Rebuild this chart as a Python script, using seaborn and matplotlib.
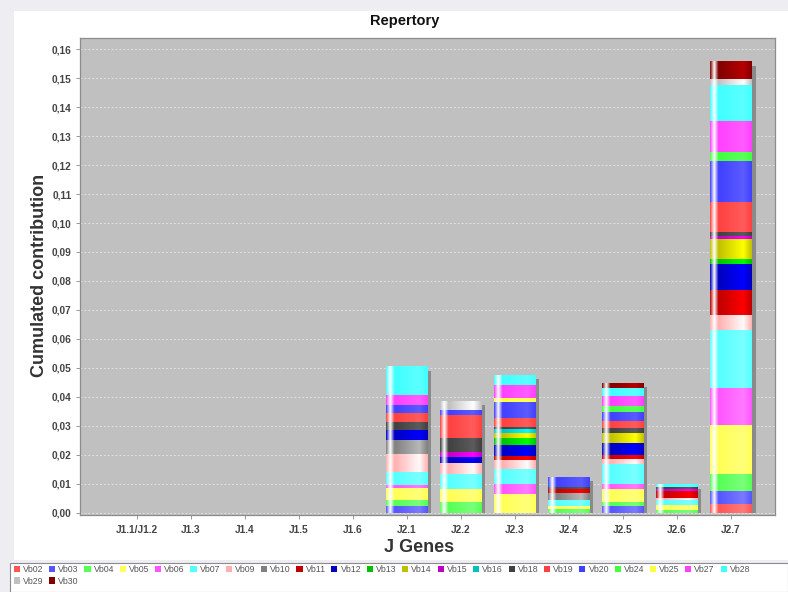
import numpy as np
import pandas as pd
import seaborn as sns
import matplotlib.pyplot as plt
from matplotlib.colors import to_rgb
from matplotlib.patches import Patch, Rectangle
from matplotlib.transforms import offset_copy

# J genes on the x axis
genes = ["J1.1/J1.2", "J1.3", "J1.4", "J1.5", "J1.6",
         "J2.1", "J2.2", "J2.3", "J2.4", "J2.5", "J2.6", "J2.7"]

# V beta segments, stacked bottom -> top
vb = ["Vb02", "Vb03", "Vb04", "Vb05", "Vb06", "Vb07", "Vb09", "Vb10", "Vb11",
      "Vb12", "Vb13", "Vb14", "Vb15", "Vb16", "Vb18", "Vb19", "Vb20", "Vb24",
      "Vb25", "Vb27", "Vb28", "Vb29", "Vb30"]

# jfreechart default paint sequence
vb_colors = ["#ff5555", "#5555ff", "#55ff55", "#ffff55", "#ff55ff", "#55ffff",
             "#ffafaf", "#808080", "#c00000", "#0000c0", "#00c000", "#c0c000",
             "#c000c0", "#00c0c0", "#404040", "#ff4040", "#4040ff", "#40ff40",
             "#ffff40", "#ff40ff", "#40ffff", "#c0c0c0", "#800000"]

# contributions per J gene, same order as vb
j1_empty = [0.0] * len(vb)
j21 = [0, .0024, .0020, .0041, .0010, .0048, .0062, .0048, 0, .0034, 0, 0,
       0, 0, .0028, .0031, .0028, 0, 0, .0034, .0097, 0, 0]
j22 = [0, 0, .0038, .0045, 0, .0052, .0038, 0, 0, .0020, 0, 0,
       .0017, 0, .0048, .0079, .0017, 0, 0, 0, 0, .0031, 0]
j23 = [0, 0, 0, .0064, .0036, .0050, .0031, 0, .0015, .0040, .0022, .0017,
       0, .0015, .0008, .0031, .0052, 0, .0017, .0045, .0034, 0, 0]
j24 = [0, 0, .0014, .0010, 0, .0020, 0, .0024, .0014, 0, 0, 0,
       0, 0, .0008, 0, .0034, 0, 0, 0, 0, 0, 0]
j25 = [0, .0023, .0015, .0045, .0017, .0069, .0017, 0, .0015, .0040, 0, .0034,
       0, 0, .0017, .0026, .0031, .0020, 0, .0036, .0025, 0, .0017]
j26 = [0, 0, .0010, .0017, 0, .0017, .0007, 0, .0024, 0, 0, 0,
       .0007, 0, .0007, 0, 0, 0, 0, 0, .0007, 0, 0]
j27 = [.0031, .0046, .0057, .0169, .0127, .0200, .0052, 0, .0086, .0090, .0017, .0071,
       .0009, 0, .0015, .0103, .0140, .0031, 0, .0107, .0126, .0020, .0059]

per_gene = [j1_empty] * 5 + [j21, j22, j23, j24, j25, j26, j27]

rows = []
for g, vals in zip(genes, per_gene):
    for v, val in zip(vb, vals):
        rows.append({"gene": g, "vb": v, "value": val})
df = pd.DataFrame(rows)
totals = df.groupby("gene", sort=False)["value"].sum().reindex(genes)


def brighter(rgb):
    # java.awt.Color.brighter()
    return np.array([min(c / 0.7, 1.0) if c > 0 else 0.0 for c in rgb])


def bar_gradient(rgb, n=120):
    # jfreechart GradientBarPainter, vertical bars: c0->white->c0->c1->c0
    c0 = np.array(rgb)
    c1 = brighter(rgb)
    white = np.ones(3)
    f = np.linspace(0, 1, n)
    out = np.empty((1, n, 3))
    for i, t in enumerate(f):
        if t < 0.1:
            a, b, s = c0, white, t / 0.1
        elif t < 0.2:
            a, b, s = white, c0, (t - 0.1) / 0.1
        elif t < 0.8:
            a, b, s = c0, c1, (t - 0.2) / 0.6
        else:
            a, b, s = c1, c0, (t - 0.8) / 0.2
        out[0, i] = a + (b - a) * s
    return out


sns.set_theme(style="white")
plt.rcParams["font.family"] = ["Liberation Sans", "DejaVu Sans"]

fig = plt.figure(figsize=(7.88, 5.92), dpi=100, facecolor="#eeeef2")
fig.patches.append(Rectangle((14 / 788, 32 / 592), 774 / 788, 549 / 592,
                             transform=fig.transFigure, facecolor="white",
                             edgecolor="none", zorder=-10))
ax = fig.add_axes([80 / 788, 1 - 515 / 592, 695 / 788, 477 / 592])
ax.set_facecolor("#c0c0c0")

bar_w = 0.77

# shadows
n0 = len(ax.patches)
sns.histplot(x=genes, weights=totals.values, discrete=True, shrink=bar_w,
             color="#8a8a8a", alpha=1, linewidth=0, ax=ax)
shadow_tr = offset_copy(ax.transData, fig=fig, x=4, y=-4, units="dots")
clip = Rectangle((-2, 0), 20, 1, transform=ax.transData)
for p in ax.patches[n0:]:
    p.set_transform(shadow_tr)
    p.set_clip_path(clip)

# stacked bars
n1 = len(ax.patches)
sns.histplot(data=df, x="gene", weights="value", hue="vb",
             hue_order=vb[::-1], palette=dict(zip(vb, vb_colors)),
             multiple="stack", discrete=True, shrink=bar_w, alpha=1,
             linewidth=0, legend=False, ax=ax)

# paint each segment with the gradient of its own colour
for p in ax.patches[n1:]:
    h = p.get_height()
    if h <= 0:
        continue
    x0, y0, w = p.get_x(), p.get_y(), p.get_width()
    img = bar_gradient(to_rgb(p.get_facecolor()))
    ax.imshow(img, extent=[x0, x0 + w, y0, y0 + h], aspect="auto",
              interpolation="bilinear", zorder=2.5)

ax.set_xlim(-1.046, 11.82)
ax.set_ylim(-0.0007, 0.1638)

yt = np.arange(0, 0.1601, 0.01)
ax.set_yticks(yt)
ax.set_yticklabels([f"{t:.2f}".replace(".", ",") for t in yt])
ax.set_xticks(range(len(genes)))
ax.set_xticklabels(genes)
ax.tick_params(axis="both", length=3, width=0.6, color="#888888",
               labelsize=7.3, labelcolor="#444444", pad=3)
for lab in ax.get_xticklabels() + ax.get_yticklabels():
    lab.set_fontweight("bold")
ax.tick_params(axis="x", pad=4)
ax.tick_params(axis="both", bottom=True, left=True)

ax.set_axisbelow(True)
ax.yaxis.grid(True, color="#e0e0e0", linestyle=(0, (2, 2)), linewidth=0.7)
ax.xaxis.grid(False)
for s in ax.spines.values():
    s.set_color("#8c8c8c")
    s.set_linewidth(0.9)

ax.set_xlabel("")
ax.set_ylabel("")
fig.text(405 / 788, 1 - 21 / 592, "Repertory", ha="center", va="center",
         fontsize=10.5, fontweight="bold", color="#111111")
fig.text(40 / 788, 1 - 275 / 592, "Cumulated contribution", rotation=90,
         ha="center", va="center", fontsize=13, fontweight="bold", color="#333333")
fig.text(419 / 788, 1 - 548 / 592, "J Genes", ha="center", va="center",
         fontsize=13, fontweight="bold", color="#333333")

# legend box at the bottom
fig.patches.append(Rectangle((10 / 788, 0), 778 / 788, 29 / 592,
                             transform=fig.transFigure, facecolor="white",
                             edgecolor="#8c8c8c", linewidth=0.8))
handles = [Patch(facecolor=c, edgecolor="none") for c in vb_colors]
# matplotlib fills legend columns first, so interleave the second row
order = [0, 21, 1, 22] + list(range(2, 21))
leg = fig.legend([handles[i] for i in order], [vb[i] for i in order],
                 ncol=21, loc="upper left", bbox_to_anchor=(13 / 788, 1 - 564 / 592),
                 frameon=False, fontsize=6.3, handlelength=0.7, handleheight=0.7,
                 handletextpad=0.35, columnspacing=0.64, labelspacing=0.3,
                 borderpad=0.1, borderaxespad=0)
for t in leg.get_texts():
    t.set_color("#555555")

fig.savefig("out.png", dpi=100)
